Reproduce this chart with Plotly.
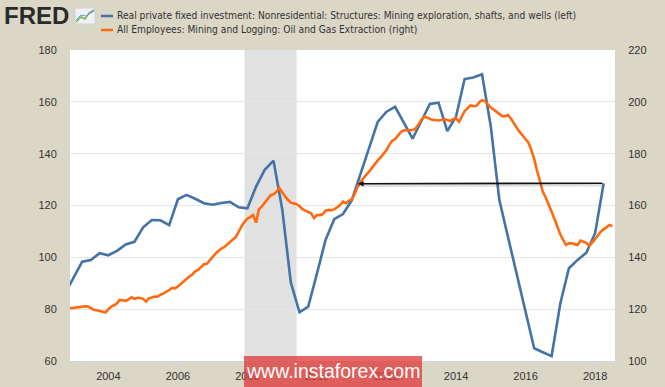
import pandas as pd
import plotly.graph_objects as go

# ---------------- data ----------------
blue_start = "2002-10-01"   # quarterly, Real private fixed investment: mining exploration (left axis)
blue_values = [
    86.0,
    92.0, 98.3, 99.0, 101.6,
    100.8, 102.5, 105.0, 106.0,
    111.6, 114.4, 114.3, 112.4,
    122.4, 124.1, 122.6, 120.9,
    120.3, 121.0, 121.4, 119.3,
    118.9, 127.3, 133.8, 137.3,
    118.5, 90.3, 78.8, 81.0,
    93.8, 106.7, 114.7, 116.7,
    122.0, 131.8, 142.0, 152.3,
    156.2, 158.1, 152.0, 145.8,
    152.5, 159.2, 159.7, 148.7,
    154.3, 168.8, 169.4, 170.6,
    150.5, 122.1, 107.8, 93.5,
    79.2, 64.9, 63.4, 61.9,
    82.3, 95.8, 99.0, 101.8,
    109.3, 128.6,
]

orange_start = "2002-11-01"  # monthly, All Employees: Oil and Gas Extraction (right axis)
orange_values = [
    120.6, 120.4,
    120.5, 120.7, 120.9, 121.0, 121.1, 121.0, 120.4, 119.8, 119.6, 119.3, 118.9, 118.7,
    120.0, 121.0, 121.5, 122.3, 123.6, 123.3, 123.2, 123.8, 124.6, 124.0, 124.4, 124.3,
    124.0, 122.9, 124.2, 124.5, 124.9, 124.8, 125.6, 126.0, 126.6, 127.4, 128.2, 128.0,
    128.8, 129.8, 130.9, 131.8, 132.6, 133.4, 134.6, 135.1, 136.3, 137.3, 137.5, 139.0,
    140.2, 141.5, 142.4, 143.4, 143.9, 145.0, 146.1, 146.9, 147.8, 150.0, 152.0, 153.7,
    155.0, 155.5, 156.3, 153.4, 158.5, 159.7, 161.0, 162.6, 164.0, 164.3, 165.3, 166.8,
    165.0, 163.4, 162.2, 161.1, 160.8, 160.5, 159.8, 158.6, 158.0, 157.6, 157.0, 155.1,
    156.3, 156.3, 156.6, 158.0, 158.3, 158.2, 158.5, 159.3, 160.2, 161.5, 160.9, 161.8,
    162.3, 164.5, 167.0, 169.0, 170.6, 171.8, 173.0, 174.6, 176.0, 177.4, 178.6, 179.8,
    181.4, 183.5, 185.0, 185.6, 186.8, 188.4, 189.0, 189.1, 189.1, 189.1, 189.6, 191.5,
    193.0, 194.3, 193.8, 193.3, 193.0, 193.0, 192.8, 193.0, 193.3, 193.0, 192.6, 193.3,
    193.6, 192.3, 194.5, 196.4, 197.5, 198.6, 198.4, 198.4, 199.8, 200.6, 200.3, 199.0,
    197.8, 197.0, 196.2, 195.0, 194.5, 194.5, 194.9, 193.5, 191.6, 190.0, 188.3, 187.0,
    185.5, 184.2, 181.5, 178.0, 173.5, 169.5, 165.3, 163.0, 160.5, 157.6, 154.7, 151.7,
    148.8, 146.6, 144.8, 145.4, 145.4, 145.1, 144.8, 146.5, 145.9, 145.6, 144.4, 145.9,
    147.0, 148.5, 149.9, 150.8, 151.8, 152.5, 152.0,
]

recession = ["2007-12-01", "2009-06-01"]
x_range = ["2002-11-24", "2018-07-29"]
left_ticks = [60, 80, 100, 120, 140, 160, 180]
right_ticks = [100, 120, 140, 160, 180, 200, 220]
year_ticks = ["2004", "2006", "2008", "2010", "2012", "2014", "2016", "2018"]

arrow_from = ("2018-04-01", 128.6)
arrow_to = ("2011-03-08", 128.4)

blue_name = "Real private fixed investment: Nonresidential: Structures: Mining exploration, shafts, and wells (left)"
orange_name = "All Employees: Mining and Logging: Oil and Gas Extraction (right)"

# ---------------- figure ----------------
W, H = 665, 387
ML, MR, MT, MB = 70, 50, 50, 26
PW, PH = W - ML - MR, H - MT - MB

def px(x):
    return (x - ML) / PW

def py(y):
    return (H - MB - y) / PH

BLUE = "#4572A7"
ORANGE = "#FF6A10"
BG = "#DBD7C6"
FONT = "Liberation Sans"
NARROW = "Liberation Sans Narrow, DejaVu Sans Condensed, Liberation Sans"

blue_dates = pd.date_range(blue_start, periods=len(blue_values), freq="QS")
orange_dates = pd.date_range(orange_start, periods=len(orange_values), freq="MS")

fig = go.Figure()
fig.add_trace(go.Scatter(x=blue_dates, y=blue_values, mode="lines", name=blue_name,
                         line=dict(color=BLUE, width=2.6), yaxis="y"))
fig.add_trace(go.Scatter(x=orange_dates, y=orange_values, mode="lines", name=orange_name,
                         line=dict(color=ORANGE, width=2.6), yaxis="y2"))

shapes = [
    dict(type="rect", xref="x", yref="paper", x0=recession[0], x1=recession[1], y0=0, y1=1,
         fillcolor="#E1E1E1", line=dict(width=0), layer="below"),
    # FRED icon
    dict(type="rect", xref="paper", yref="paper", x0=px(75), x1=px(95), y0=py(24), y1=py(8),
         fillcolor="#EEF2F6", line=dict(color="#C9D3DD", width=1)),
    dict(type="path", xref="paper", yref="paper",
         path=f"M {px(76)} {py(22)} L {px(81)} {py(17)} L {px(85)} {py(19)} L {px(89)} {py(13)} L {px(94)} {py(10)}",
         line=dict(color="#7FAF5A", width=1.5)),
    dict(type="path", xref="paper", yref="paper",
         path=f"M {px(76)} {py(20)} L {px(81)} {py(15)} L {px(86)} {py(16)} L {px(94)} {py(11)}",
         line=dict(color="#6C9BC8", width=1)),
    # legend samples
    dict(type="line", xref="paper", yref="paper", x0=px(101), x1=px(113), y0=py(16), y1=py(16),
         line=dict(color=BLUE, width=2.5)),
    dict(type="line", xref="paper", yref="paper", x0=px(101), x1=px(113), y0=py(30), y1=py(30),
         line=dict(color=ORANGE, width=2.5)),
    # watermark box
    dict(type="rect", xref="paper", yref="paper", x0=px(244), x1=px(422), y0=py(387), y1=py(356),
         fillcolor="rgba(222,60,60,0.78)", line=dict(width=0), layer="above"),
]

annotations = [
    dict(xref="paper", yref="paper", x=px(2), y=py(16), text="<b>FRED</b>", showarrow=False,
         xanchor="left", yanchor="middle", font=dict(family=FONT, size=24, color="#2B2B2B")),
    dict(xref="paper", yref="paper", x=px(115), y=py(16), text=blue_name, showarrow=False,
         xanchor="left", yanchor="middle", font=dict(family=NARROW, size=10.2, color="#333333")),
    dict(xref="paper", yref="paper", x=px(115), y=py(30), text=orange_name, showarrow=False,
         xanchor="left", yanchor="middle", font=dict(family=NARROW, size=10.2, color="#333333")),
    # arrow shadow
    dict(x=arrow_to[0], y=arrow_to[1] - 0.6, ax=arrow_from[0], ay=arrow_from[1] - 0.6,
         xref="x", yref="y", axref="x", ayref="y", text="", showarrow=True,
         arrowhead=0, arrowwidth=3.5, arrowcolor="rgba(0,0,0,0.12)", standoff=0),
    dict(x=arrow_to[0], y=arrow_to[1], ax=arrow_from[0], ay=arrow_from[1],
         xref="x", yref="y", axref="x", ayref="y", text="", showarrow=True,
         arrowhead=2, arrowsize=0.7, arrowwidth=1.6, arrowcolor="#111111", standoff=0),
    dict(xref="paper", yref="paper", x=px(333), y=py(371), text="www.instaforex.com",
         showarrow=False, xanchor="center", yanchor="middle",
         font=dict(family=FONT, size=19.5, color="white")),
]

fig.update_layout(
    width=W, height=H, autosize=False,
    margin=dict(l=ML, r=MR, t=MT, b=MB, autoexpand=False),
    paper_bgcolor=BG, plot_bgcolor="white",
    showlegend=False,
    font=dict(family=FONT, size=11, color="#333333"),
    shapes=shapes, annotations=annotations,
    xaxis=dict(range=x_range, tickvals=[f"{y}-01-01" for y in year_ticks], ticktext=year_ticks,
               showgrid=False, zeroline=False, showline=True, linecolor="#CCD6EB", linewidth=1,
               ticks="outside", ticklen=5, tickcolor="#CCD6EB", automargin=False,
               tickfont=dict(size=11, color="#333333")),
    yaxis=dict(range=[60, 180], tickvals=left_ticks, showgrid=True, gridcolor="#E6E6E6",
               gridwidth=1, zeroline=False, ticks="outside", ticklen=10, tickcolor="rgba(0,0,0,0)",
               automargin=False, tickfont=dict(size=11, color="#333333")),
    yaxis2=dict(range=[100, 220], tickvals=right_ticks, overlaying="y", side="right",
                showgrid=False, zeroline=False, ticks="outside", ticklen=10, automargin=False,
                tickcolor="rgba(0,0,0,0)", tickfont=dict(size=11, color="#333333")),
)

fig.write_html("out.html", config={"displayModeBar": False, "responsive": False},
               post_script="document.body.style.margin='0';document.body.style.background='" + BG + "';")
